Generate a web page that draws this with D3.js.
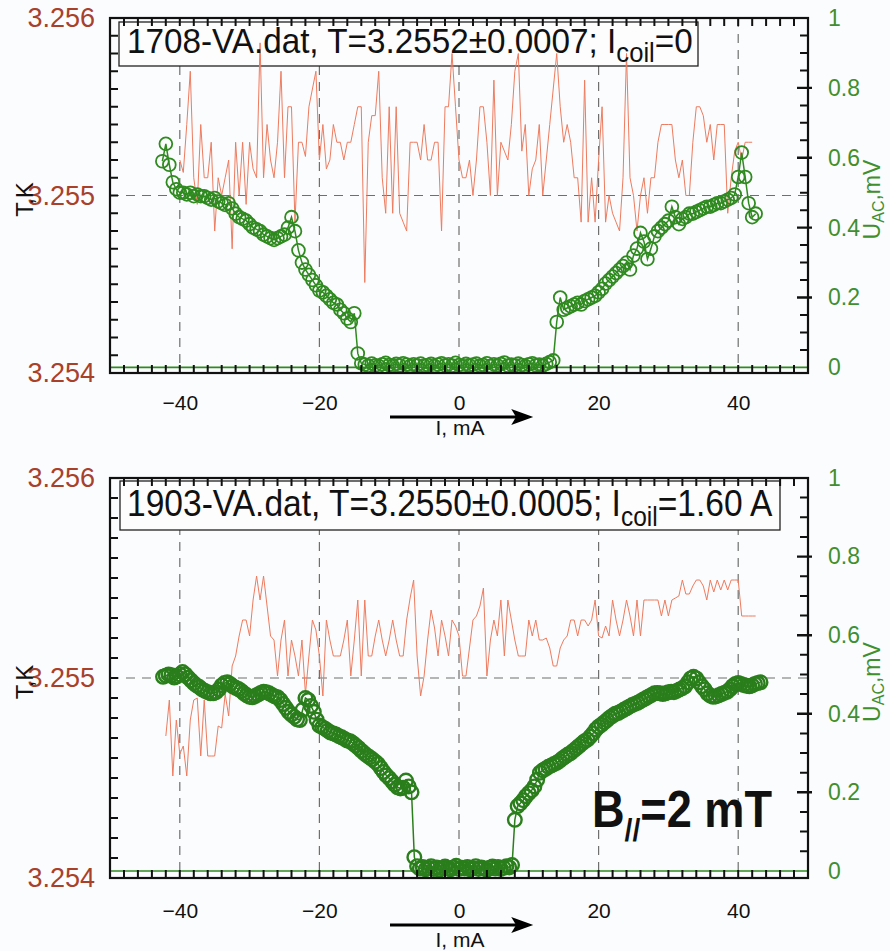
<!DOCTYPE html>
<html>
<head>
<meta charset="utf-8">
<script src="https://cdn.jsdelivr.net/npm/d3@7"></script>
<style>
  html, body { margin: 0; padding: 0; background: #fbfcfd; }
  svg { display: block; }
  text { font-family: "Liberation Sans", Arial, sans-serif; }
</style>
</head>
<body>
<svg id="chart" width="890" height="951"></svg>
<script>
// ---------- Sweep 1708 (I_coil = 0) ----------
// AC voltage vs. current
const topCurrentU = [-42.5,-42,-41.5,-41,-40.5,-40,-39.5,-39,-38.5,-38,-37.5,-37,-36.5,-36,-35.5,-35,-34.5,-34,-33.5,-33,-32.5,-32,-31.5,-31,-30.5,-30,-29.5,-29,-28.5,-28,-27.5,-27,-26.5,-26,-25.5,-25,-24.5,-24,-23.5,-23,-22.5,-22,-21.5,-21,-20.5,-20,-19.5,-19,-18.5,-18,-17.5,-17,-16.5,-16,-15.5,-15,-14.5,-14,-13.5,-13,-12.5,-12,-11.5,-11,-10.5,-10,-9.5,-9,-8.5,-8,-7.5,-7,-6.5,-6,-5.5,-5,-4.5,-4,-3.5,-3,-2.5,-2,-1.5,-1,-0.5,0,0.5,1,1.5,2,2.5,3,3.5,4,4.5,5,5.5,6,6.5,7,7.5,8,8.5,9,9.5,10,10.5,11,11.5,12,12.5,13,13.5,14,14.5,15,15.5,16,16.5,17,17.5,18,18.5,19,19.5,20,20.5,21,21.5,22,22.5,23,23.5,24,24.5,25,25.5,26,26.5,27,27.5,28,28.5,29,29.5,30,30.5,31,31.5,32,32.5,33,33.5,34,34.5,35,35.5,36,36.5,37,37.5,38,38.5,39,39.5,40,40.5,41,41.5,42,42.5];
const topVoltage = [0.59,0.64,0.58,0.53,0.51,0.50,0.50,0.495,0.50,0.49,0.495,0.49,0.49,0.485,0.48,0.485,0.475,0.47,0.465,0.47,0.455,0.44,0.43,0.425,0.42,0.41,0.40,0.395,0.39,0.38,0.375,0.37,0.365,0.37,0.375,0.38,0.40,0.43,0.39,0.335,0.30,0.28,0.265,0.25,0.235,0.22,0.215,0.205,0.195,0.185,0.18,0.165,0.155,0.14,0.13,0.155,0.04,0.012,
  0.008,0.005,0.011,0.006,0.004,0.009,0.013,0.007,0.005,0.01,0.006,0.012,0.008,0.004,0.009,0.006,0.011,0.005,0.007,0.01,0.004,0.008,0.012,0.006,0.009,0.005,0.013,0.007,0.004,0.01,0.006,0.008,0.011,0.005,0.007,0.012,0.004,0.009,0.006,0.01,0.014,0.005,0.008,0.006,0.011,0.007,0.004,0.009,0.012,0.006,0.008,0.005,0.01,0.015,
  0.02,0.13,0.20,0.165,0.17,0.175,0.18,0.185,0.18,0.19,0.195,0.20,0.205,0.215,0.225,0.24,0.25,0.26,0.27,0.28,0.29,0.30,0.28,0.32,0.34,0.385,0.36,0.31,0.34,0.375,0.39,0.40,0.41,0.42,0.46,0.43,0.41,0.425,0.43,0.44,0.44,0.445,0.45,0.455,0.46,0.46,0.465,0.47,0.47,0.475,0.48,0.485,0.495,0.545,0.615,0.545,0.47,0.43,0.44];
// temperature vs. current
const topCurrentT = [-40,-39.5,-39,-38.5,-38,-37.5,-37,-36.5,-36,-35.5,-35,-34.5,-34,-33.5,-33,-32.5,-32,-31.5,-31,-30.5,-30,-29.5,-29,-28.5,-28,-27.5,-27,-26.5,-26,-25.5,-25,-24.5,-24,-23.5,-23,-22.5,-22,-21.5,-21,-20.5,-20,-19.5,-19,-18.5,-18,-17.5,-17,-16.5,-16,-15.5,-15,-14.5,-14,-13.5,-13,-12.5,-12,-11.5,-11,-10.5,-10,-9.5,-9,-8.5,-8,-7.5,-7,-6.5,-6,-5.5,-5,-4.5,-4,-3.5,-3,-2.5,-2,-1.5,-1,-0.5,0,0.5,1,1.5,2,2.5,3,3.5,4,4.5,5,5.5,6,6.5,7,7.5,8,8.5,9,9.5,10,10.5,11,11.5,12,12.5,13,13.5,14,14.5,15,15.5,16,16.5,17,17.5,18,18.5,19,19.5,20,20.5,21,21.5,22,22.5,23,23.5,24,24.5,25,25.5,26,26.5,27,27.5,28,28.5,29,29.5,30,30.5,31,31.5,32,32.5,33,33.5,34,34.5,35,35.5,36,36.5,37,37.5,38,38.5,39,39.5,40,40.5,41,41.5,42];
const topTemp = [3.2552,3.25513,3.2554,3.2557,3.2551,3.25495,3.2554,3.2551,3.2551,3.2553,3.2548,3.2551,3.2550,3.2551,3.2552,3.2547,3.2553,3.2550,3.2553,3.25495,3.2553,3.25515,3.2551,3.25586,3.2551,3.2554,3.2552,3.2551,3.2553,3.2557,3.2551,3.2555,3.2555,3.25485,3.2553,3.2553,3.25522,3.2555,3.2556,3.2557,3.2552,3.2554,3.25515,3.2552,3.2554,3.2553,3.2553,3.2552,3.2553,3.2553,3.2554,3.2555,3.2555,3.25451,3.2553,3.25545,3.25545,3.2557,3.2551,3.2549,3.2555,3.2549,3.2555,3.2549,3.25485,3.2548,3.2553,3.2553,3.2553,3.2552,3.2554,3.2552,3.2552,3.2553,3.2553,3.2548,3.2555,3.2555,3.2558,3.2555,3.2552,3.2551,3.2551,3.2552,3.2550,3.2552,
  3.2555,3.2555,3.2553,3.2550,3.25565,3.2550,3.2553,3.25525,3.2552,3.2554,3.2557,3.2558,3.25525,3.2554,3.2550,3.25515,3.2552,3.2554,3.2550,3.2552,3.2554,3.2556,3.2558,3.2555,3.2553,3.2554,3.2553,3.2551,3.2551,3.25485,3.25565,3.25485,3.2551,3.25485,3.2552,3.2555,3.25485,3.2550,3.2549,3.25485,3.2548,3.2551,3.2558,3.2551,3.2550,3.2548,3.2550,3.2551,3.2549,3.2551,3.2551,3.2553,3.2554,3.2554,3.2554,3.2554,3.2552,3.2551,3.2552,3.2550,3.2550,3.2553,3.2555,3.2555,3.25545,3.2553,3.2554,3.2552,3.2554,3.2554,3.2554,3.2549,3.2551,3.25525,3.2553,3.2552,3.2553,3.2553,3.2553];

// ---------- Sweep 1903 (I_coil = 1.60 A) ----------
const botCurrentU = [-42.4,-42,-41.6,-41.2,-40.8,-40.4,-40,-39.6,-39.2,-38.8,-38.4,-38,-37.6,-37.2,-36.8,-36.4,-36,-35.6,-35.2,-34.8,-34.4,-34,-33.6,-33.2,-32.8,-32.4,-32,-31.6,-31.2,-30.8,-30.4,-30,-29.6,-29.2,-28.8,-28.4,-28,-27.6,-27.2,-26.8,-26.4,-26,-25.6,-25.2,-24.8,-24.4,-24,-23.6,-23.2,-22.8,-22.4,-22,-21.6,-21.2,-20.8,-20.4,-20,-19.6,-19.2,-18.8,-18.4,-18,-17.6,-17.2,-16.8,-16.4,-16,-15.6,-15.2,-14.8,-14.4,-14,-13.6,-13.2,-12.8,-12.4,-12,-11.6,-11.2,-10.8,-10.4,-10,-9.6,-9.2,-8.8,-8.4,-8,-7.6,-7.2,-6.8,-6.4,-6,-5.6,-5.2,-4.8,-4.4,-4,-3.6,-3.2,-2.8,-2.4,-2,-1.6,-1.2,-0.8,-0.4,0,0.4,0.8,1.2,1.6,2,2.4,2.8,3.2,3.6,4,4.4,4.8,5.2,5.6,6,6.4,6.8,7.2,7.6,8,8.4,8.8,9.2,9.6,10,10.4,10.8,11.2,11.6,12,12.4,12.8,13.2,13.6,14,14.4,14.8,15.2,15.6,16,16.4,16.8,17.2,17.6,18,18.4,18.8,19.2,19.6,20,20.4,20.8,21.2,21.6,22,22.4,22.8,23.2,23.6,24,24.4,24.8,25.2,25.6,26,26.4,26.8,27.2,27.6,28,28.4,28.8,29.2,29.6,30,30.4,30.8,31.2,31.6,32,32.4,32.8,33.2,33.6,34,34.4,34.8,35.2,35.6,36,36.4,36.8,37.2,37.6,38,38.4,38.8,39.2,39.6,40,40.4,40.8,41.2,41.6,42,42.4,42.8,43.2];
const botVoltage = [0.494,0.497,0.50,0.498,0.492,0.495,0.50,0.506,0.50,0.492,0.485,0.478,0.472,0.468,0.462,0.458,0.455,0.452,0.452,0.455,0.462,0.472,0.478,0.48,0.476,0.47,0.466,0.463,0.458,0.452,0.447,0.443,0.442,0.445,0.449,0.453,0.456,0.455,0.452,0.448,0.444,0.442,0.435,0.425,0.415,0.405,0.398,0.392,0.386,0.384,0.41,0.44,0.435,0.42,0.405,0.385,0.37,0.366,0.362,0.357,0.352,0.35,0.347,0.343,0.34,0.336,0.332,0.33,0.325,0.319,0.313,0.306,0.30,0.294,0.289,0.284,0.278,0.272,0.262,0.252,0.243,0.236,0.228,0.22,0.213,0.21,0.212,0.23,0.215,0.2,0.035,0.012,
  0.006,0.01,0.004,0.008,0.012,0.005,0.009,0.003,0.007,0.011,0.006,0.004,0.009,0.013,0.005,0.008,0.006,0.01,0.004,0.007,0.012,0.005,0.009,0.006,0.003,0.008,0.011,0.006,0.01,0.005,0.008,0.012,0.009,0.015,
  0.13,0.165,0.172,0.18,0.19,0.198,0.205,0.215,0.232,0.25,0.256,0.26,0.265,0.268,0.272,0.275,0.28,0.286,0.291,0.296,0.30,0.306,0.312,0.318,0.324,0.33,0.334,0.342,0.35,0.36,0.367,0.372,0.378,0.384,0.39,0.395,0.40,0.402,0.406,0.41,0.414,0.418,0.422,0.425,0.428,0.432,0.436,0.44,0.444,0.448,0.452,0.453,0.452,0.45,0.452,0.455,0.456,0.455,0.458,0.462,0.465,0.47,0.48,0.49,0.494,0.49,0.48,0.47,0.462,0.452,0.446,0.443,0.444,0.447,0.45,0.453,0.456,0.462,0.47,0.476,0.478,0.476,0.473,0.471,0.47,0.472,0.476,0.478,0.48];
const botCurrentT = [-42,-41.5,-41,-40.5,-40,-39.5,-39,-38.5,-38,-37.5,-37,-36.5,-36,-35.5,-35,-34.5,-34,-33.5,-33,-32.5,-32,-31.5,-31,-30.5,-30,-29.5,-29,-28.5,-28,-27.5,-27,-26.5,-26,-25.5,-25,-24.5,-24,-23.5,-23,-22.5,-22,-21.5,-21,-20.5,-20,-19.5,-19,-18.5,-18,-17.5,-17,-16.5,-16,-15.5,-15,-14.5,-14,-13.5,-13,-12.5,-12,-11.5,-11,-10.5,-10,-9.5,-9,-8.5,-8,-7.5,-7,-6.5,-6,-5.5,-5,-4.5,-4,-3.5,-3,-2.5,-2,-1.5,-1,-0.5,0,0.5,1,1.5,2,2.5,3,3.5,4,4.5,5,5.5,6,6.5,7,7.5,8,8.5,9,9.5,10,10.5,11,11.5,12,12.5,13,13.5,14,14.5,15,15.5,16,16.5,17,17.5,18,18.5,19,19.5,20,20.5,21,21.5,22,22.5,23,23.5,24,24.5,25,25.5,26,26.5,27,27.5,28,28.5,29,29.5,30,30.5,31,31.5,32,32.5,33,33.5,34,34.5,35,35.5,36,36.5,37,37.5,38,38.5,39,39.5,40,40.5,41,41.5,42,42.5];
const botTemp = [3.25471,3.25489,3.25451,3.25479,3.25462,3.25466,3.25451,3.25479,3.25489,3.2549,3.25461,3.25489,3.25461,3.25461,3.25461,3.25476,3.25475,3.25492,3.25481,3.25506,3.25511,3.25521,3.25529,3.25529,3.25521,3.25539,3.25551,3.25539,3.25551,3.25536,3.25521,3.25519,3.25501,3.25519,3.25529,3.25501,3.25519,3.25511,3.25501,3.25519,3.25492,3.25511,3.25529,3.25524,3.25511,3.25491,3.25529,3.25519,3.25511,3.25511,3.25511,3.25519,3.25529,3.25501,3.25519,3.25539,3.25501,3.25539,3.25511,3.25511,3.25521,3.25529,3.25519,3.25511,3.25519,3.25529,3.25519,3.25511,3.25511,3.25529,3.2554,3.25549,3.25511,3.25491,3.25501,3.25519,3.25534,3.25525,3.25511,3.25529,3.25521,3.25511,3.25529,3.25526,3.25521,3.25501,3.25501,3.25515,3.25529,
  3.25531,3.25536,3.25545,3.25501,3.25519,3.25529,3.25521,3.25539,3.25511,3.25539,3.25529,3.25519,3.25511,3.25511,3.25511,3.25529,3.25521,3.25529,3.25519,3.25519,3.2552,3.25515,3.25506,3.25506,3.25515,3.25519,3.25521,3.25529,3.25529,3.25521,3.25529,3.25529,3.25526,3.25529,3.25539,3.25521,3.2552,3.25526,3.25521,3.25539,3.25529,3.25521,3.25529,3.25539,3.25531,3.25521,3.25539,3.25521,3.25539,3.25539,3.25539,3.25539,3.25539,3.25531,3.25539,3.25531,3.25539,3.2554,3.25541,3.25549,3.25542,3.25542,3.25546,3.25549,3.25549,3.25546,3.25539,3.25549,3.25543,3.25549,3.25544,3.25549,3.25544,3.25549,3.25549,3.25549,3.25531,3.25531,3.25531,3.25531,3.25531];

// ---------- Axis tick values ----------
const currentLabels = [-40, -20, 0, 20, 40];
const currentMinor = [-48,-46,-44,-42,-40,-38,-36,-34,-32,-30,-28,-26,-24,-22,-20,-18,-16,-14,-12,-10,-8,-6,-4,-2,0,2,4,6,8,10,12,14,16,18,20,22,24,26,28,30,32,34,36,38,40,42,44,46,48];
const tempLabels = [3.254, 3.255, 3.256];
const tempMinor = [3.2541,3.2542,3.2543,3.2544,3.2545,3.2546,3.2547,3.2548,3.2549,3.2550,3.2551,3.2552,3.2553,3.2554,3.2555,3.2556,3.2557,3.2558,3.2559];
const voltLabels = [0, 0.2, 0.4, 0.6, 0.8, 1];
const voltMinor = [0.05,0.1,0.15,0.25,0.3,0.35,0.45,0.5,0.55,0.65,0.7,0.75,0.85,0.9,0.95];
const voltMajor = [0.2, 0.4, 0.6, 0.8];

// ---------- Drawing ----------
const svg = d3.select("#chart");
svg.append("rect").attr("width", 890).attr("height", 951).attr("fill", "#fbfcfd");

const RED = "#ee7b5f", GREEN = "#2f8a20", TLABEL = "#a9402a", ULABEL = "#3f8f2f";

const panels = [
  { top: 18, bottom: 373, uMin: -0.016,
    current: topCurrentU, volt: topVoltage, currentT: topCurrentT, temp: topTemp,
    box: [119, 22, 579, 44], titleX: 127, titleY: 53, titleW: 566, titleSize: 35, subSize: 27, subDy: 9,
    titleMain: "1708-VA.dat, T=3.2552\u00b10.0007; I", titleTail: "=0",
    circleR: 6.4, circleW: 1.8, green: "#2f8a20", tickPad: 22, arrowY: 417, labelY: 435 },
  { top: 478, bottom: 878, uMin: -0.018,
    current: botCurrentU, volt: botVoltage, currentT: botCurrentT, temp: botTemp,
    box: [120, 481, 660, 49], titleX: 127, titleY: 516, titleW: 646, titleSize: 37, subSize: 27, subDy: 10,
    titleMain: "1903-VA.dat, T=3.2550\u00b10.0005; I", titleTail: "=1.60 A",
    circleR: 6.8, circleW: 2.4, green: "#2a7e1b", tickPad: 25, arrowY: 925, labelY: 947 }
];

function fitWidth(sel, x0, y0, target) {
  const w = sel.node().getBBox().width;
  sel.attr("transform", `translate(${x0},${y0}) scale(${target / w},1)`);
}

panels.forEach(p => {
  const L = 110, R = 808;
  const x = d3.scaleLinear().domain([-50, 50]).range([L, R]);
  const yT = d3.scaleLinear().domain([3.254, 3.256]).range([p.bottom, p.top]);
  const yU = d3.scaleLinear().domain([p.uMin, 1]).range([p.bottom, p.top]);
  const g = svg.append("g");

  // dashed grid
  g.selectAll("line.vgrid").data(currentLabels).join("line").attr("class", "vgrid")
    .attr("x1", d => x(d)).attr("x2", d => x(d))
    .attr("y1", p.top).attr("y2", p.bottom)
    .attr("stroke", "#6f6f6f").attr("stroke-width", 1.2).attr("stroke-dasharray", "9,7");
  g.append("line")
    .attr("x1", L).attr("x2", R).attr("y1", yT(3.255)).attr("y2", yT(3.255))
    .attr("stroke", "#6f6f6f").attr("stroke-width", 1.2).attr("stroke-dasharray", "9,7");

  // title box
  g.append("rect").attr("x", p.box[0]).attr("y", p.box[1]).attr("width", p.box[2]).attr("height", p.box[3])
    .attr("fill", "#fdfdfe").attr("stroke", "#222").attr("stroke-width", 1.3);

  // zero line of the voltage axis
  g.append("line").attr("x1", L).attr("x2", R).attr("y1", yU(0)).attr("y2", yU(0))
    .attr("stroke", GREEN).attr("stroke-width", 1.6);

  // temperature trace
  const tPairs = p.currentT.map((c, i) => [c, p.temp[i]]);
  g.append("path").datum(tPairs)
    .attr("d", d3.line().x(d => x(d[0])).y(d => yT(d[1])))
    .attr("fill", "none").attr("stroke", RED).attr("stroke-width", 1);

  // voltage trace with open circles
  const uPairs = p.current.map((c, i) => [c, p.volt[i]]);
  g.append("path").datum(uPairs)
    .attr("d", d3.line().x(d => x(d[0])).y(d => yU(d[1])))
    .attr("fill", "none").attr("stroke", p.green).attr("stroke-width", 1.5);
  g.selectAll("circle.pt").data(uPairs).join("circle").attr("class", "pt")
    .attr("cx", d => x(d[0])).attr("cy", d => yU(d[1])).attr("r", p.circleR)
    .attr("fill", "none").attr("stroke", p.green).attr("stroke-width", p.circleW);

  // frame
  g.append("rect").attr("x", L).attr("y", p.top).attr("width", R - L).attr("height", p.bottom - p.top)
    .attr("fill", "none").attr("stroke", "#111").attr("stroke-width", 2.2);

  // frame ticks as one path, pointing into the plot
  let tickPath = "";
  currentMinor.forEach(d => {
    const xx = x(d).toFixed(1);
    tickPath += `M${xx},${p.bottom}V${p.bottom - 8}M${xx},${p.top}V${p.top + 8}`;
  });
  tempMinor.forEach(d => {
    const yy = yT(d).toFixed(1);
    tickPath += `M${L},${yy}H${L + 8}`;
  });
  voltMinor.forEach(d => {
    const yy = yU(d).toFixed(1);
    tickPath += `M${R},${yy}H${R - 8}`;
  });
  g.append("path").attr("d", tickPath).attr("fill", "none")
    .attr("stroke", "#111").attr("stroke-width", 2);
  let majorPath = "";
  voltMajor.forEach(d => {
    const yy = yU(d).toFixed(1);
    majorPath += `M${R - 11},${yy}H${R + 4}`;
  });
  g.append("path").attr("d", majorPath).attr("fill", "none")
    .attr("stroke", "#111").attr("stroke-width", 2.4);

  // tick labels
  const xl = g.append("g").attr("transform", `translate(0,${p.bottom})`)
    .call(d3.axisBottom(x).tickValues(currentLabels).tickSize(0).tickPadding(p.tickPad).tickFormat(d3.format("d")));
  xl.select(".domain").remove();
  xl.selectAll("text").attr("font-size", 21).attr("fill", "#111")
    .attr("font-family", "'Liberation Sans', Arial, sans-serif");

  const tl = g.append("g").attr("transform", `translate(${L},0)`)
    .call(d3.axisLeft(yT).tickValues(tempLabels).tickSize(0).tickPadding(15).tickFormat(d3.format(".3f")));
  tl.select(".domain").remove();
  tl.selectAll("text").attr("font-size", 27).attr("fill", TLABEL)
    .attr("font-family", "'Liberation Sans', Arial, sans-serif");

  const ul = g.append("g").attr("transform", `translate(${R},0)`)
    .call(d3.axisRight(yU).tickValues(voltLabels).tickSize(0).tickPadding(20)
      .tickFormat(d => (d === 0 || d === 1) ? String(d) : d.toFixed(1)));
  ul.select(".domain").remove();
  ul.selectAll("text").attr("font-size", 23).attr("fill", ULABEL)
    .attr("font-family", "'Liberation Sans', Arial, sans-serif");

  // title text
  const title = g.append("text").attr("x", 0).attr("y", 0)
    .attr("font-size", p.titleSize).attr("fill", "#111");
  title.append("tspan").text(p.titleMain);
  title.append("tspan").attr("font-size", p.subSize).attr("dy", p.subDy).text("coil");
  title.append("tspan").attr("dy", -p.subDy).text(p.titleTail);
  fitWidth(title, p.titleX, p.titleY, p.titleW);

  // current axis label with arrow
  g.append("line").attr("x1", 390).attr("x2", 520).attr("y1", p.arrowY).attr("y2", p.arrowY)
    .attr("stroke", "#000").attr("stroke-width", 3);
  g.append("path")
    .attr("d", `M531,${p.arrowY} L513,${p.arrowY - 6.5} L517,${p.arrowY} L513,${p.arrowY + 6.5} Z`)
    .attr("fill", "#000").attr("stroke", "#000").attr("stroke-width", 1.5);
  g.append("text").attr("x", 460).attr("y", p.labelY).attr("text-anchor", "middle")
    .attr("font-size", 21).attr("fill", "#111").text("I, mA");

  // vertical axis titles
  const midT = (p.top + p.bottom) / 2 + 4;
  g.append("text").attr("transform", `translate(33,${midT}) rotate(-90)`)
    .attr("text-anchor", "middle").attr("font-size", 24).attr("fill", "#111").text("T,K");
  const ut = g.append("text").attr("transform", `translate(880,${midT}) rotate(-90)`)
    .attr("text-anchor", "middle").attr("font-size", 23).attr("fill", ULABEL);
  ut.append("tspan").text("U");
  ut.append("tspan").attr("font-size", 16).attr("dy", 4).text("AC");
  ut.append("tspan").attr("dy", -4).text(",mV");
});

// field annotation in the lower panel
const bLabel = svg.append("text").attr("x", 0).attr("y", 0)
  .attr("font-family", "Lato, 'Open Sans', sans-serif").attr("font-weight", 700)
  .attr("font-size", 51).attr("fill", "#111");
bLabel.append("tspan").text("B");
bLabel.append("tspan").attr("font-size", 32).attr("dy", 14).text("//");
bLabel.append("tspan").attr("dy", -14).text("=2 mT");
fitWidth(bLabel, 592, 827, 180);
</script>
</body>
</html>
